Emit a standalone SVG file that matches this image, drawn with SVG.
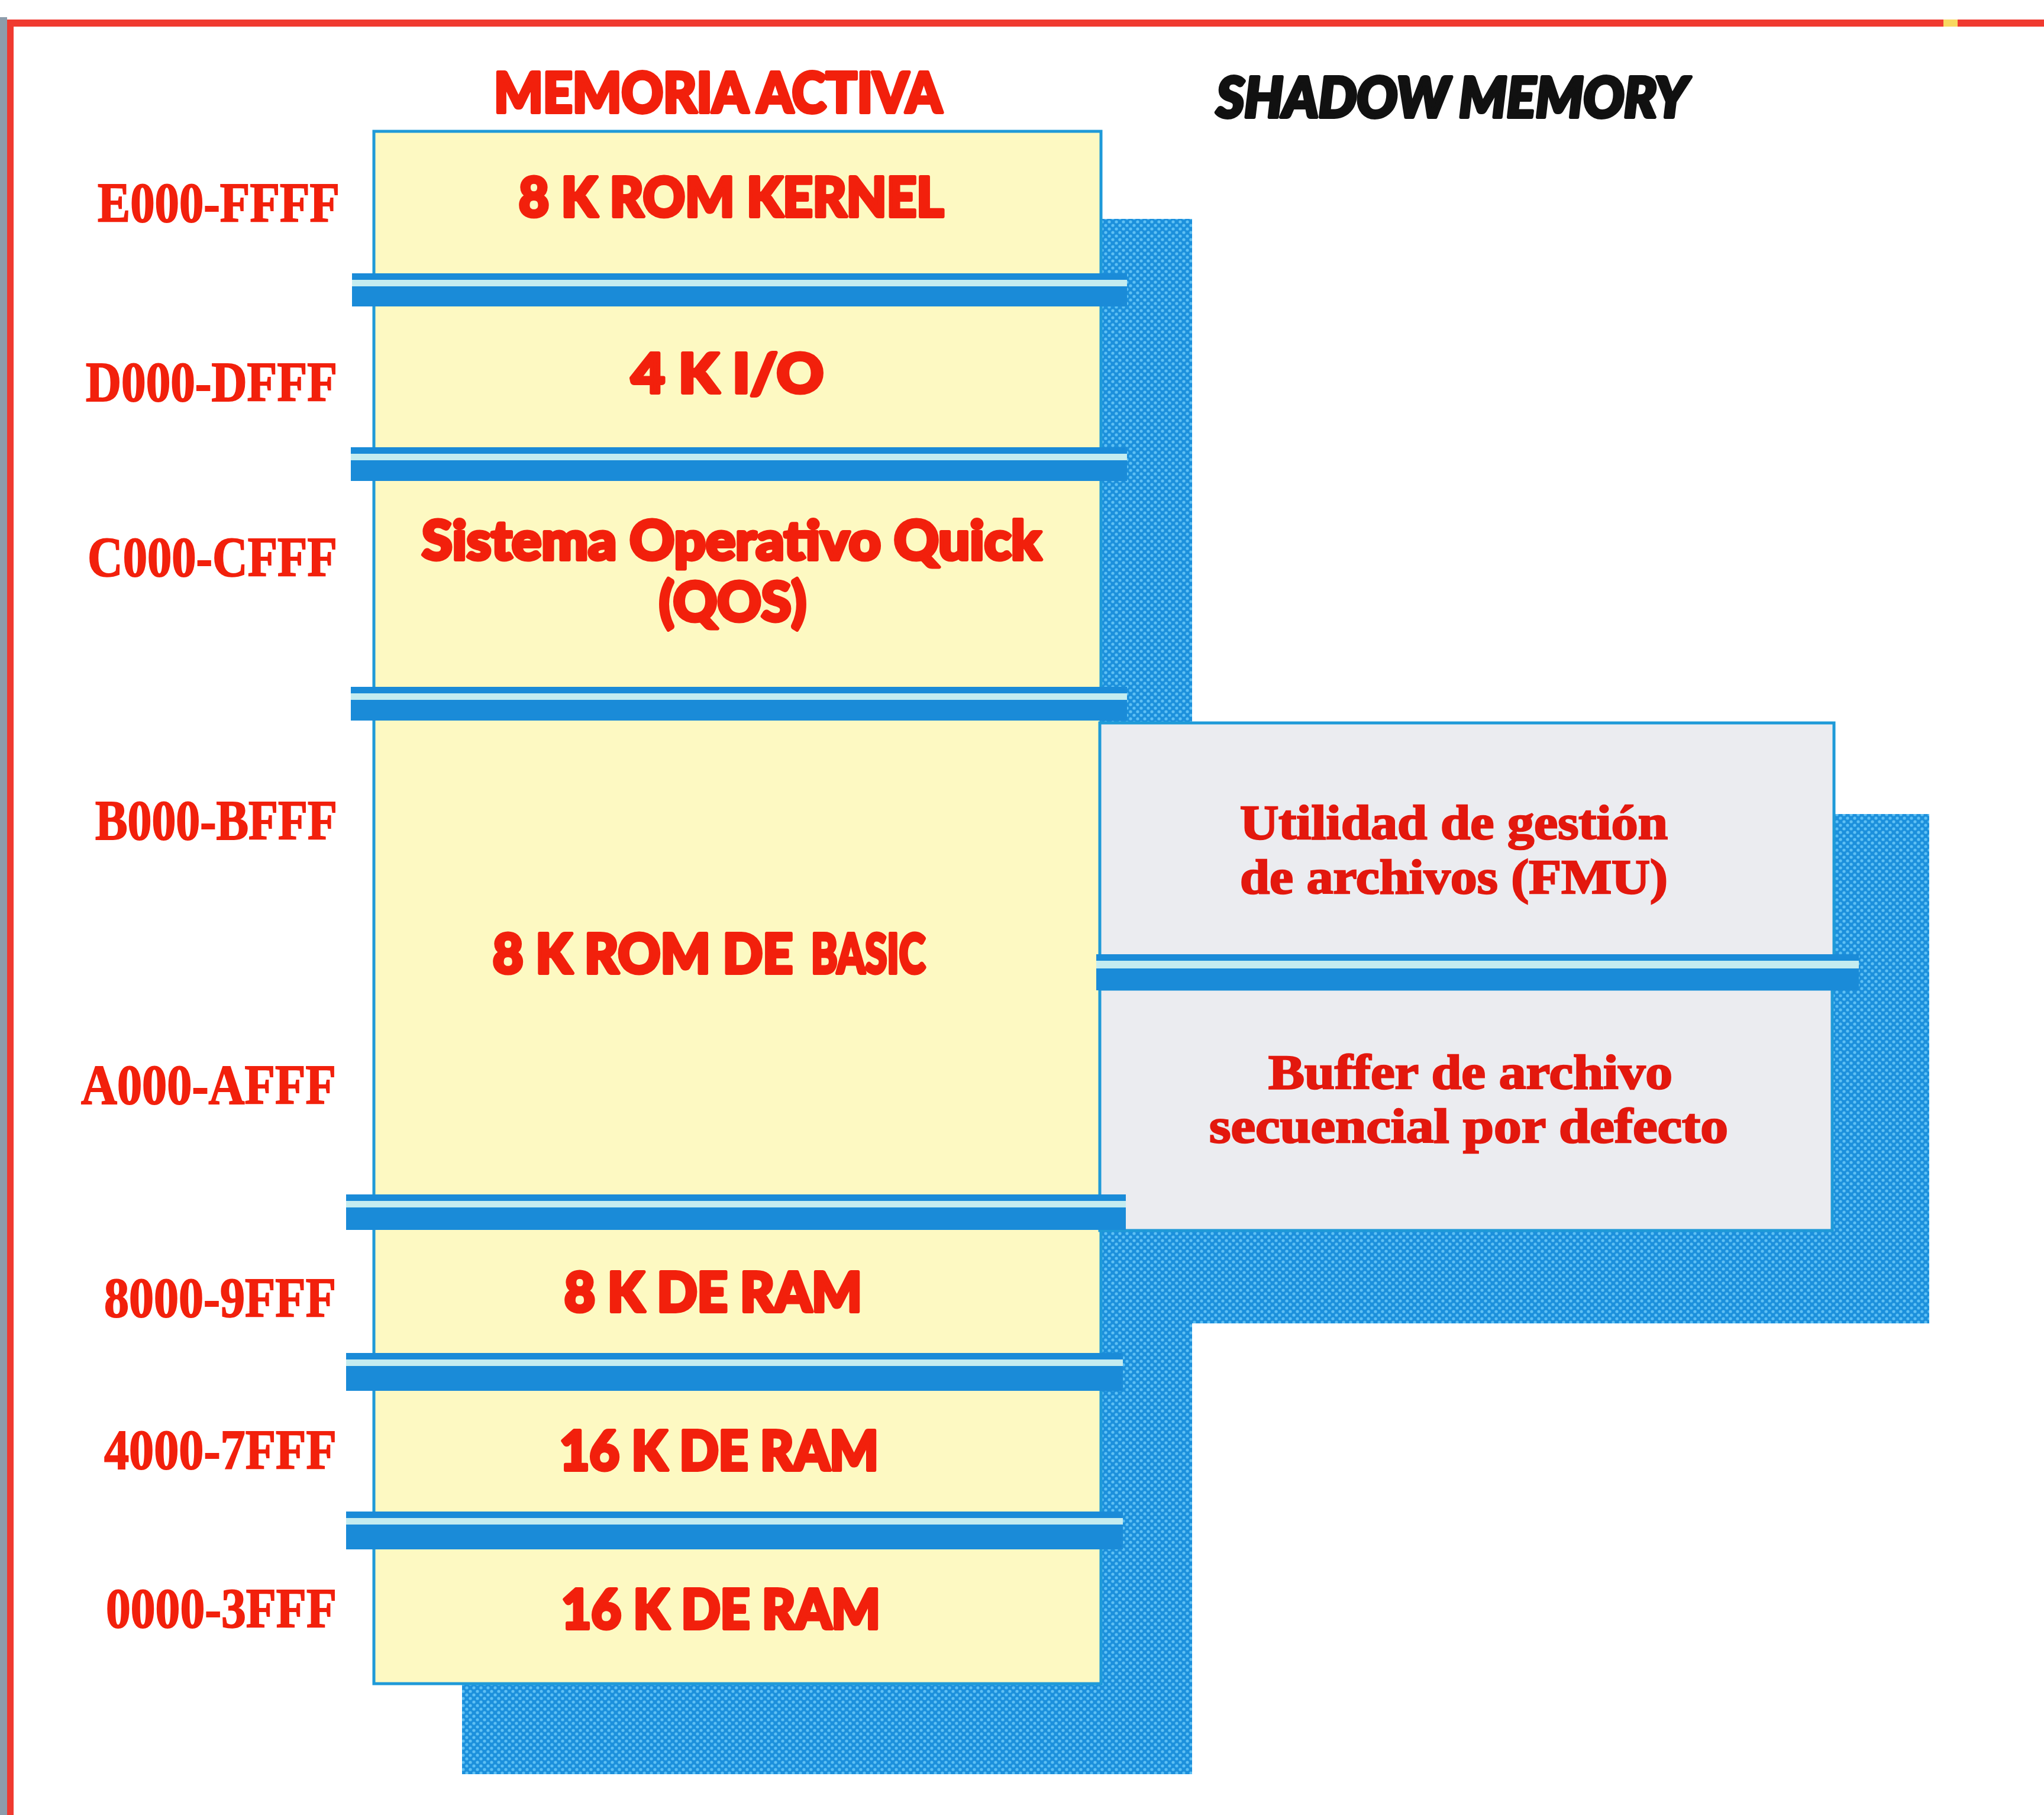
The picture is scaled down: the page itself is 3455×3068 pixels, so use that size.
<svg xmlns="http://www.w3.org/2000/svg" width="3455" height="3068" viewBox="0 0 3455 3068">
<style>
.lbl{font-family:"Liberation Serif","Times New Roman",serif;font-weight:bold;font-size:95px;fill:#f2200c;stroke:#f2200c;stroke-width:2}
.box{font-family:Lato,Roboto,"DejaVu Sans",sans-serif;font-weight:900;font-size:92px;fill:#f2200c;stroke:#f2200c;stroke-width:6;stroke-linejoin:round}
.ser{font-family:"Liberation Serif","Times New Roman",serif;font-weight:bold;font-size:82px;fill:#e3180e;stroke:#e3180e;stroke-width:2.5}
.ttl{font-family:Lato,Roboto,"DejaVu Sans",sans-serif;font-weight:900;font-size:94px;stroke-width:6;stroke-linejoin:round}
.yel{fill:#fdf9c2;stroke:#1f9ad8;stroke-width:5}
.gry{fill:#ebecf0;stroke:#1f9ad8;stroke-width:5}
.sb{fill:#1a8bd8}
.sl{fill:#c4ecf0}
</style>
<defs>
<pattern id="dots" width="12" height="12" patternUnits="userSpaceOnUse">
<rect width="12" height="12" fill="#1c90dc"/>
<circle cx="3" cy="3" r="2.6" fill="#5ec0f4"/>
<circle cx="9" cy="9" r="2.6" fill="#5ec0f4"/>
</pattern>
</defs>
<rect width="3455" height="3068" fill="#ffffff"/>
<g id="frame">
<rect x="0" y="29" width="12" height="3039" fill="#8d9cab"/>
<rect x="12" y="33" width="11" height="3035" fill="#f03a30"/>
<rect x="12" y="33" width="3443" height="12" fill="#f03a30"/>
<rect x="3285" y="33" width="24" height="12" fill="#f8d860"/>
</g>
<g id="shadows">
<rect x="781" y="370" width="1234" height="2629" fill="url(#dots)"/>
<rect x="2009" y="1376" width="1252" height="861" fill="url(#dots)"/>
</g>
<g id="titles">
<text class="ttl" x="835" y="190" textLength="757" lengthAdjust="spacingAndGlyphs" fill="#f2200c" stroke="#f2200c">MEMORIA ACTIVA</text>
<text class="ttl" x="2056" y="198" textLength="797" lengthAdjust="spacingAndGlyphs" fill="#111111" stroke="#111111" font-style="italic">SHADOW MEMORY</text>
</g>
<g id="active-memory">
<rect class="yel" x="632" y="222" width="1229" height="2624"/>
</g>
<g id="shadow-memory">
<rect id="fmu" class="gry" x="1859" y="1222" width="1241" height="394"/>
<rect id="buffer" class="gry" x="1859" y="1672" width="1238" height="408"/>
</g>
<g id="separators">
<g id="sep1"><rect class="sb" x="595" y="462" width="1310" height="11"/><rect class="sl" x="595" y="473" width="1310" height="11"/><rect class="sb" x="595" y="484" width="1310" height="34"/></g>
<g id="sep2"><rect class="sb" x="593" y="756" width="1312" height="11"/><rect class="sl" x="593" y="767" width="1312" height="11"/><rect class="sb" x="593" y="778" width="1312" height="35"/></g>
<g id="sep3"><rect class="sb" x="593" y="1161" width="1312" height="11"/><rect class="sl" x="593" y="1172" width="1312" height="11"/><rect class="sb" x="593" y="1183" width="1312" height="35"/></g>
<g id="sep4"><rect class="sb" x="585" y="2019" width="1318" height="11"/><rect class="sl" x="585" y="2030" width="1318" height="11"/><rect class="sb" x="585" y="2041" width="1318" height="38"/></g>
<g id="sep5"><rect class="sb" x="585" y="2287" width="1313" height="11"/><rect class="sl" x="585" y="2298" width="1313" height="11"/><rect class="sb" x="585" y="2309" width="1313" height="42"/></g>
<g id="sep6"><rect class="sb" x="585" y="2555" width="1313" height="11"/><rect class="sl" x="585" y="2566" width="1313" height="11"/><rect class="sb" x="585" y="2577" width="1313" height="42"/></g>
<g id="sep-shadow"><rect class="sb" x="1853" y="1613" width="1289" height="11"/><rect class="sl" x="1853" y="1624" width="1289" height="13"/><rect class="sb" x="1853" y="1637" width="1289" height="37"/></g>
</g>
<g id="addresses">
<text class="lbl" x="165" y="375" textLength="409" lengthAdjust="spacingAndGlyphs">E000-FFFF</text>
<text class="lbl" x="145" y="678" textLength="425" lengthAdjust="spacingAndGlyphs">D000-DFFF</text>
<text class="lbl" x="148" y="974" textLength="422" lengthAdjust="spacingAndGlyphs">C000-CFFF</text>
<text class="lbl" x="161" y="1419" textLength="409" lengthAdjust="spacingAndGlyphs">B000-BFFF</text>
<text class="lbl" x="137" y="1866" textLength="431" lengthAdjust="spacingAndGlyphs">A000-AFFF</text>
<text class="lbl" x="176" y="2226" textLength="392" lengthAdjust="spacingAndGlyphs">8000-9FFF</text>
<text class="lbl" x="176" y="2483" textLength="393" lengthAdjust="spacingAndGlyphs">4000-7FFF</text>
<text class="lbl" x="179" y="2751" textLength="390" lengthAdjust="spacingAndGlyphs">0000-3FFF</text>
</g>
<g id="kernel"><text class="box" x="877" y="366" textLength="718" lengthAdjust="spacingAndGlyphs">8 K ROM KERNEL</text></g>
<g id="io"><text class="box" x="1067" y="664" textLength="325" lengthAdjust="spacingAndGlyphs">4 K I/O</text></g>
<g id="qos">
<text class="box" x="713" y="946" font-size="78" textLength="1047" lengthAdjust="spacingAndGlyphs">Sistema Operativo Quick</text>
<text class="box" x="1114" y="1050" font-size="78" textLength="249" lengthAdjust="spacingAndGlyphs">(QOS)</text>
</g>
<g id="basic">
<text class="box" x="833" y="1645" textLength="507" lengthAdjust="spacingAndGlyphs">8 K ROM DE</text>
<text class="box" x="1371" y="1645" font-size="66" textLength="193" lengthAdjust="spacingAndGlyphs">BASIC</text>
</g>
<g id="ram8"><text class="box" x="954" y="2217" textLength="503" lengthAdjust="spacingAndGlyphs">8 K DE RAM</text></g>
<g id="ram16a"><text class="box" x="946" y="2485" textLength="539" lengthAdjust="spacingAndGlyphs">16 K DE RAM</text></g>
<g id="ram16b"><text class="box" x="949" y="2753" textLength="539" lengthAdjust="spacingAndGlyphs">16 K DE RAM</text></g>
<g id="fmu-text">
<text class="ser" x="2096" y="1418" textLength="723" lengthAdjust="spacingAndGlyphs">Utilidad de gestión</text>
<text class="ser" x="2096" y="1510" textLength="723" lengthAdjust="spacingAndGlyphs">de archivos (FMU)</text>
</g>
<g id="buffer-text">
<text class="ser" x="2144" y="1840" textLength="683" lengthAdjust="spacingAndGlyphs">Buffer de archivo</text>
<text class="ser" x="2044" y="1931" textLength="877" lengthAdjust="spacingAndGlyphs">secuencial por defecto</text>
</g>
</svg>
